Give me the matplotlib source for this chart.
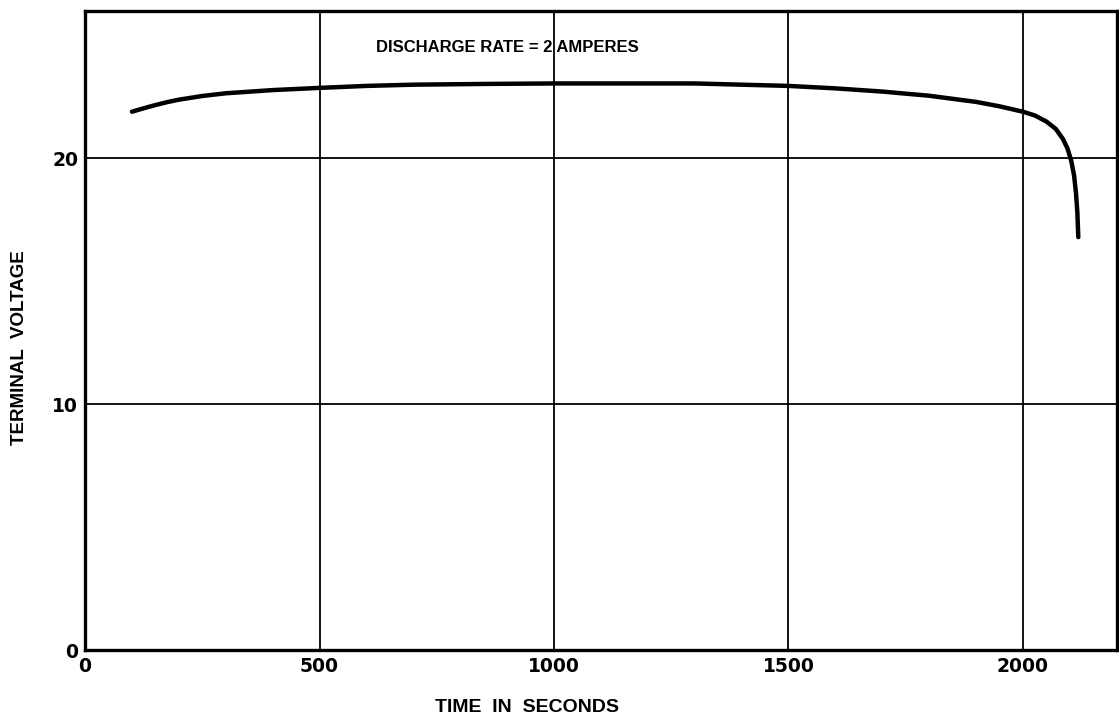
import matplotlib
matplotlib.use("Agg")
import matplotlib.pyplot as plt
import numpy as np

# discharge curve
time_s = [100, 125, 150, 175, 200, 250, 300, 400, 500, 600, 700, 850, 1000,
          1150, 1300, 1400, 1500, 1600, 1700, 1800, 1900, 1950, 2000, 2025,
          2050, 2070, 2085, 2095, 2103, 2109, 2113, 2116, 2118]
voltage = [21.9, 22.04, 22.17, 22.29, 22.39, 22.54, 22.65, 22.78, 22.87, 22.95,
           23.0, 23.03, 23.05, 23.05, 23.05, 23.0, 22.95, 22.85, 22.72, 22.55,
           22.3, 22.12, 21.9, 21.75, 21.5, 21.2, 20.8, 20.4, 19.9, 19.3, 18.6,
           17.8, 16.8]

x_ticks = [0, 500, 1000, 1500, 2000]
x_ticklabels = ["0", "500", "1000", "1500", "2000"]
y_ticks = [0, 10, 20]
y_ticklabels = ["0", "10", "20"]

fnt = ["Liberation Sans Narrow", "Liberation Sans", "DejaVu Sans"]
plt.rcParams['font.family'] = ["DejaVu Sans"]

fig = plt.figure(figsize=(11.19, 7.19), dpi=100)
ax = fig.add_axes([0.076, 0.0958, 0.922, 0.889])

ax.plot(time_s, voltage, color="black", lw=3.2, solid_capstyle="round",
        solid_joinstyle="round")

ax.set_xlim(0, 2200)
ax.set_ylim(0, 26)
ax.set_xticks(x_ticks)
ax.set_xticklabels(x_ticklabels, fontsize=13.5, fontweight="semibold")
ax.set_yticks(y_ticks)
ax.set_yticklabels(y_ticklabels, fontsize=13.5, fontweight="semibold")
ax.tick_params(length=0, pad=5)
ax.grid(True, color="black", lw=1.3)
for s in ax.spines.values():
    s.set_linewidth(2.4)

ax.text(620, 24.5, "DISCHARGE RATE = 2 AMPERES", fontsize=12,
        fontweight="bold", family=fnt, va="center", ha="left")
# axis titles sit off-centre in the original, so place them by hand
fig.text(527 / 1119, 1 - 708 / 719, "TIME  IN  SECONDS", fontsize=14,
         fontweight="bold", family=fnt, ha="center", va="center")
fig.text(20 / 1119, 1 - 348 / 719, "TERMINAL  VOLTAGE", fontsize=13.5,
         fontweight="bold", family=fnt, ha="center", va="center", rotation=90)

fig.savefig("out.png", dpi=100)
